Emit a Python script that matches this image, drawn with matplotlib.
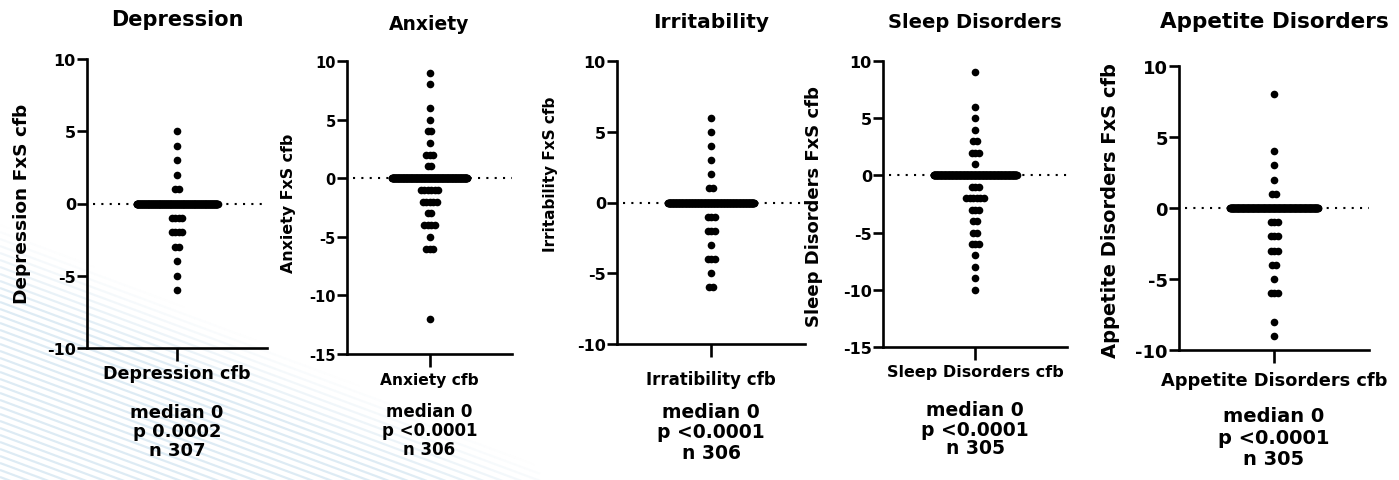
import numpy as np
import matplotlib
matplotlib.use('Agg')
import matplotlib.pyplot as plt
from matplotlib import font_manager
from matplotlib.collections import LineCollection

W, H = 1399, 481

# --- data: value -> number of subjects ---
DEP_VALUES = [5, 4, 3, 2, 1, 0, -1, -2, -3, -4, -5, -6]
DEP_COUNTS = [1, 1, 1, 1, 2, 288, 4, 4, 2, 1, 1, 1]

ANX_VALUES = [9, 8, 6, 5, 4, 3, 2, 1, 0, -1, -2, -3, -4, -5, -6, -12]
ANX_COUNTS = [1, 1, 1, 1, 2, 1, 3, 2, 272, 6, 5, 2, 4, 1, 3, 1]

IRR_VALUES = [6, 5, 4, 3, 2, 1, 0, -1, -2, -3, -4, -5, -6]
IRR_COUNTS = [1, 1, 1, 1, 1, 2, 286, 3, 3, 1, 3, 1, 2]

SLP_VALUES = [9, 6, 5, 4, 3, 2, 1, 0, -1, -2, -3, -4, -5, -6, -7, -8, -9, -10]
SLP_COUNTS = [1, 1, 1, 1, 2, 3, 1, 272, 3, 6, 3, 2, 2, 3, 1, 1, 1, 1]

APP_VALUES = [8, 4, 3, 2, 1, 0, -1, -2, -3, -4, -5, -6, -8, -9]
APP_COUNTS = [1, 1, 1, 1, 2, 282, 3, 3, 3, 2, 1, 3, 1, 1]

TITLES = ['Depression', 'Anxiety', 'Irritability', 'Sleep Disorders', 'Appetite Disorders']
YLABELS = ['Depression FxS cfb', 'Anxiety FxS cfb', 'Irritability FxS cfb',
           'Sleep Disorders FxS cfb', 'Appetite Disorders FxS cfb']
XLABELS = ['Depression cfb', 'Anxiety cfb', 'Irratibility cfb',
           'Sleep Disorders cfb', 'Appetite Disorders cfb']
MEDIANS = [0, 0, 0, 0, 0]
PVALUES = ['0.0002', '<0.0001', '<0.0001', '<0.0001', '<0.0001']
NS = [307, 306, 306, 305, 305]
YLIMS = [(-10, 10), (-15, 10), (-10, 10), (-15, 10), (-10, 10)]
YTICKS = [[10, 5, 0, -5, -10], [10, 5, 0, -5, -10, -15], [10, 5, 0, -5, -10],
          [10, 5, 0, -5, -10, -15], [10, 5, 0, -5, -10]]

SERIES = [(DEP_VALUES, DEP_COUNTS), (ANX_VALUES, ANX_COUNTS), (IRR_VALUES, IRR_COUNTS),
          (SLP_VALUES, SLP_COUNTS), (APP_VALUES, APP_COUNTS)]

# --- layout in pixels ---
# y-axis x, right end x, top y, bottom y
BOXES = [(87, 267, 60, 349), (347, 512, 62, 355), (617, 805, 62, 345),
         (883, 1067, 62, 348), (1179, 1369, 67, 351)]
TITLE_Y = [20, 25, 22, 23, 22]
TITLE_FS = [15, 13.5, 14.5, 14, 15.5]
YLAB_POS = [(22, 204), (288, 203), (550, 174), (814, 207), (1110, 211)]
YLAB_FS = [13.3, 11.4, 11, 13, 14]
XLAB_Y = [374, 380, 380, 373, 381]
XLAB_FS = [12.6, 11.2, 12, 11.5, 12.8]
STAT_Y = [432, 431, 433, 430, 438]
STAT_FS = [13, 12, 13.5, 13.5, 14]
STAT_LS = [1.05, 1.1, 1.1, 1.0, 1.15]
TICK_FS = [11.5, 10.5, 11.5, 11.5, 13]
ROW_MAX = [81, 75, 86, 83, 88]
STEP_PX = 3.5

plt.rcParams['font.family'] = 'DejaVu Sans'
plt.rcParams['font.weight'] = 'bold'

# the Irritability axis label is drawn narrower in the original
installed = {f.name for f in font_manager.fontManager.ttflist}
if 'Liberation Sans Narrow' in installed:
    NARROW = ('Liberation Sans Narrow', 13.3)
else:
    NARROW = ('DejaVu Sans', 11)

fig = plt.figure(figsize=(W / 100, H / 100), dpi=100)


def px(x, y):
    return x / W, 1 - y / H


# faint watermark stripes in the lower left
bg = fig.add_axes([0, 0, 1, 1], zorder=-1)
bg.set_xlim(0, W)
bg.set_ylim(H, 0)
bg.axis('off')
segs, cols = [], []
xs = np.linspace(0, 540, 109)
for y0 in np.arange(100, 700, 7):
    ys = y0 + 0.37 * xs
    for i in range(len(xs) - 1):
        xm = (xs[i] + xs[i + 1]) / 2
        ym = (ys[i] + ys[i + 1]) / 2
        a = np.clip((ym - (225 + 0.45 * xm)) / 70, 0, 1) * 0.6
        if a <= 0 or ym > H + 5:
            continue
        segs.append([(xs[i], ys[i]), (xs[i + 1], ys[i + 1])])
        cols.append((0.78, 0.87, 0.93, a))
bg.add_collection(LineCollection(segs, colors=cols, linewidths=1.6))


def row_offsets(k, step, wmax):
    if k == 1:
        return np.zeros(1)
    w = min((k - 1) * step, wmax)
    return np.linspace(-w / 2, w / 2, k)


for i, (values, counts) in enumerate(SERIES):
    x0, x1, yt, yb = BOXES[i]
    l, b = px(x0, yb)
    ax = fig.add_axes([l, b, (x1 - x0) / W, (yb - yt) / H])
    ax.patch.set_visible(False)
    ax.set_xlim(-1, 1)
    ax.set_ylim(*YLIMS[i])
    d = 2.0 / (x1 - x0)  # data units per pixel

    xx, yy = [], []
    for v, c in zip(values, counts):
        off = row_offsets(c, STEP_PX * d, ROW_MAX[i] * d)
        xx.extend(off)
        yy.extend([v] * c)
    ax.plot(xx, yy, 'o', color='black', ms=5.5, mew=0, zorder=3, clip_on=False)

    ax.plot([-1 + 6 * d, 1], [0, 0], color='black', lw=1.5, ls=(0, (1, 3)),
            zorder=1, clip_on=False)

    for s in ['top', 'right']:
        ax.spines[s].set_visible(False)
    for s in ['left', 'bottom']:
        ax.spines[s].set_linewidth(1.9)
    ax.set_yticks(YTICKS[i])
    ax.set_yticklabels([str(t) for t in YTICKS[i]])
    ax.set_xticks([0])
    ax.set_xticklabels([])
    ax.tick_params(axis='y', labelsize=TICK_FS[i], width=1.9, length=7, pad=1)
    ax.tick_params(axis='x', width=1.9, length=9)

    cx = (x0 + x1) / 2
    fig.text(*px(cx, TITLE_Y[i]), TITLES[i], ha='center', va='center',
             fontsize=TITLE_FS[i], fontweight='bold')
    if i == 2:
        fam, fs = [NARROW[0], 'DejaVu Sans'], NARROW[1]
    else:
        fam, fs = ['DejaVu Sans'], YLAB_FS[i]
    fig.text(*px(*YLAB_POS[i]), YLABELS[i], ha='center', va='center',
             rotation=90, fontsize=fs, fontweight='bold', family=fam)
    fig.text(*px(cx, XLAB_Y[i]), XLABELS[i], ha='center', va='center',
             fontsize=XLAB_FS[i], fontweight='bold')
    stats = 'median %d\np %s\nn %d' % (MEDIANS[i], PVALUES[i], NS[i])
    fig.text(*px(cx, STAT_Y[i]), stats, ha='center', va='center',
             fontsize=STAT_FS[i], fontweight='bold', linespacing=STAT_LS[i],
             multialignment='center')

fig.savefig('out.png', dpi=100)
